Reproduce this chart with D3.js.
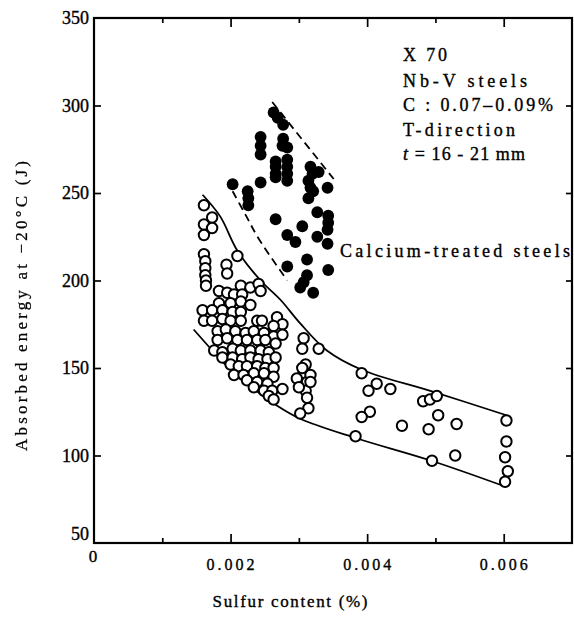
<!DOCTYPE html>
<html><head><meta charset="utf-8">
<script src="https://cdn.jsdelivr.net/npm/d3@7"></script>
<style>
html,body{margin:0;padding:0;background:#fff;}
svg{display:block;font-family:"Liberation Serif","Times New Roman",serif;}
svg text{stroke:#000;stroke-width:0.35px;fill:#000;}
svg text.ytitle{stroke:#000;stroke-width:0.25px;}
</style>
</head><body>
<svg id="chart" width="574" height="620"></svg>
<script>
// ---------- data (sulfur %, absorbed energy J) ----------
const openSteels = [
 [0.00161,243],[0.00173,236],[0.00161,232],[0.00173,230],[0.00161,226],
 [0.00161,215],[0.00163,211],[0.00163,207],[0.00163,203],[0.00164,200],[0.00164,197],
 [0.00194,209],[0.00195,204],[0.00210,214],
 [0.00183,194],[0.00195,193],[0.00215,197],[0.00229,196],[0.00241,198],[0.00244,194],
 [0.00205,192],[0.00217,192],
 [0.00183,187],[0.00200,187],[0.00215,188],[0.00229,186],
 [0.00159,183],[0.00173,183],[0.00188,183],[0.00203,182],[0.00215,182],
 [0.00161,177],[0.00173,177],[0.00188,178],[0.00200,177],[0.00215,177],[0.00239,177],[0.00246,177],
 [0.00268,179],[0.00276,175],[0.00263,174],
 [0.00181,171],[0.00193,172],[0.00207,171],[0.00222,170],[0.00234,171],[0.00249,170],[0.00263,168],
 [0.00181,166],[0.00195,167],[0.00210,166],[0.00224,166],[0.00239,166],[0.00251,166],[0.00266,164],
 [0.00307,167],[0.00305,161],
 [0.00176,160],[0.00188,159],[0.00203,161],[0.00215,160],[0.00229,160],[0.00244,160],[0.00256,159],
 [0.00188,156],[0.00203,156],[0.00217,155],[0.00229,156],[0.00241,155],[0.00254,155],[0.00266,156],
 [0.00200,152],[0.00212,151],[0.00224,151],[0.00239,151],[0.00251,150],[0.00263,150],
 [0.00205,146],[0.00219,146],[0.00234,147],[0.00249,147],[0.00263,145],
 [0.00310,152],[0.00307,147],[0.00312,142],[0.00310,137],[0.00312,133],
 [0.00224,143],[0.00239,142],[0.00254,141],[0.00234,139],[0.00249,137],[0.00261,137],[0.00276,138],
 [0.00256,134],[0.00263,132],
 [0.00297,144],[0.00300,139],
 [0.00276,169],[0.00329,161],[0.00305,150],[0.00317,146],[0.00317,142],[0.00314,127],[0.00302,124],
 [0.00392,147],[0.00414,141],[0.00402,137],[0.00434,138],[0.00404,125],[0.00392,122],[0.00383,111],
 [0.00451,117],[0.00490,115],[0.00482,131],[0.00492,132],[0.00502,134],[0.00504,123],[0.00531,118],
 [0.00495,97],[0.00529,100],
 [0.00604,120],[0.00604,108],[0.00602,99],[0.00606,91],[0.00602,85]
];
const calciumSteels = [
 [0.00263,296],[0.00269,293],[0.00277,289],[0.00244,282],[0.00244,277],[0.00244,272],
 [0.00277,281],[0.00276,277],[0.00283,276],
 [0.00266,268],[0.00266,265],[0.00266,261],[0.00266,259],
 [0.00283,269],[0.00283,265],[0.00283,261],[0.00283,257],
 [0.00244,256],[0.00203,255],[0.00225,251],[0.00226,247],[0.00226,243],
 [0.00317,265],[0.00320,261],[0.00314,257],[0.00317,253],[0.00321,251],[0.00342,253],[0.00329,262],[0.00314,247],
 [0.00266,235],[0.00305,231],[0.00283,226],[0.00295,222],
 [0.00327,239],[0.00343,237],[0.00343,233],[0.00342,229],[0.00327,225],[0.00342,221],
 [0.00312,212],[0.00283,208],[0.00343,206],[0.00312,203],[0.00307,199],[0.00302,196],[0.00321,193]
];
const upperBand = [[0.00159,249],[0.00185,236.5],[0.00210,217],[0.00244,200],[0.00273,189],[0.00302,175.5],[0.00341,160],[0.00392,149],[0.00496,136.5],[0.00604,123]];
const lowerBand = [[0.00146,172],[0.00171,161],[0.00200,149],[0.00229,139.5],[0.00266,129],[0.00302,121],[0.00383,110],[0.00494,97],[0.00604,82]];
const caUpperLine = [[0.00261,302],[0.00351,258]];
const caLowerLine = [[0.00203,251],[0.00222,237.5],[0.00241,224],[0.00283,200]];

const yTickValues = [50,100,150,200,250,300,350];
const xMajorTicks = [0.002,0.004,0.006];
const xMinorTicks = [0.001,0.003,0.005];
const xTickLabels = ["0.002","0.004","0.006"];
const noteLines = ["X 70","Nb-V  steels","C : 0.07\u20130.09%","T-direction","t = 16 - 21 mm"];

// ---------- layout ----------
const W=574,H=620;
const M={l:94,r:2,t:18,b:77};
const x=d3.scaleLinear().domain([0,0.007]).range([M.l,W-M.r]);
const y=d3.scaleLinear().domain([50,350]).range([H-M.b,M.t]);
const svg=d3.select('#chart');

// grayscale filter (avoids coloured fringes on rotated text)
svg.append('defs').append('filter').attr('id','gray')
  .append('feColorMatrix').attr('type','saturate').attr('values',0);

// axes (ticks pointing inward)
function styleAxis(g){g.select('.domain').remove();g.selectAll('line').attr('stroke','#000').attr('stroke-width',1.7);}
const allX=[...xMinorTicks,...xMajorTicks].sort();
const bAx=svg.append('g').attr('transform',`translate(0,${y(50)})`)
  .call(d3.axisBottom(x).tickValues(allX).tickSize(-9).tickFormat(''));
bAx.selectAll('.tick line').attr('y2',d=>xMinorTicks.includes(d)?-5:-9);
styleAxis(bAx);
const tAx=svg.append('g').attr('transform',`translate(0,${y(350)})`)
  .call(d3.axisTop(x).tickValues(allX).tickSize(-9).tickFormat(''));
tAx.selectAll('.tick line').attr('y2',d=>xMinorTicks.includes(d)?5:9);
styleAxis(tAx);
const inner=yTickValues.filter(v=>v>50&&v<350);
const lAx=svg.append('g').attr('transform',`translate(${x(0)},0)`)
  .call(d3.axisLeft(y).tickValues(inner).tickSize(-7).tickFormat(''));
styleAxis(lAx);
const rAx=svg.append('g').attr('transform',`translate(${x(0.007)},0)`)
  .call(d3.axisRight(y).tickValues(inner).tickSize(-6).tickFormat(''));
styleAxis(rAx);

// frame
svg.append('rect').attr('x',x(0)).attr('y',y(350))
  .attr('width',x(0.007)-x(0)).attr('height',y(50)-y(350))
  .attr('fill','none').attr('stroke','#000').attr('stroke-width',2.2);

// tick labels
svg.append('g').selectAll('text').data(yTickValues).join('text')
  .attr('x',x(0)-5).attr('y',d=>y(d)+(d===50?-3:6))
  .attr('text-anchor','end').attr('font-size',18).text(d=>d);
svg.append('text').attr('x',x(0)-1).attr('y',y(50)+19).attr('text-anchor','middle').attr('font-size',17).text('0');
svg.append('g').selectAll('text').data(xMajorTicks).join('text')
  .attr('x',d=>x(d)).attr('y',y(50)+27).attr('text-anchor','middle')
  .attr('font-size',16).attr('textLength',48).attr('lengthAdjust','spacing')
  .text((d,i)=>xTickLabels[i]);

// axis titles
svg.append('text').attr('x',290).attr('y',607).attr('text-anchor','middle')
  .attr('font-size',17).attr('textLength',155).attr('lengthAdjust','spacing')
  .text('Sulfur content (%)');
svg.append('g').attr('filter','url(#gray)').append('text').attr('class','ytitle')
  .attr('transform','translate(27,306) rotate(-90)')
  .attr('text-anchor','middle').attr('font-size',17)
  .attr('textLength',290).attr('lengthAdjust','spacing')
  .text('Absorbed energy at  \u221220\u00b0C (J)');

// curves
const line=d3.line().x(d=>x(d[0])).y(d=>y(d[1])).curve(d3.curveCatmullRom.alpha(0.5));
svg.append('path').datum(upperBand).attr('d',line).attr('fill','none').attr('stroke','#000').attr('stroke-width',1.8);
svg.append('path').datum(lowerBand).attr('d',line).attr('fill','none').attr('stroke','#000').attr('stroke-width',1.8);
svg.append('path').datum(caUpperLine).attr('d',line).attr('fill','none').attr('stroke','#000').attr('stroke-width',1.8).attr('stroke-dasharray','8,5');
svg.append('path').datum(caLowerLine).attr('d',line).attr('fill','none').attr('stroke','#000').attr('stroke-width',1.8).attr('stroke-dasharray','8,5');

// points
svg.append('g').selectAll('circle').data(openSteels).join('circle')
  .attr('cx',d=>x(d[0])).attr('cy',d=>y(d[1])).attr('r',5.2)
  .attr('fill','#fff').attr('stroke','#000').attr('stroke-width',2);
svg.append('g').selectAll('circle').data(calciumSteels).join('circle')
  .attr('cx',d=>x(d[0])).attr('cy',d=>y(d[1])).attr('r',5.9).attr('fill','#000');

// annotations
const noteY=[61,87,111,136,160], noteLen=[44,124,150,112,122];
const notes=svg.append('g').attr('font-size',18);
noteLines.forEach((t,i)=>{
  const tx=notes.append('text').attr('x',403).attr('y',noteY[i])
    .attr('textLength',noteLen[i]).attr('lengthAdjust','spacing');
  if(i===4){tx.append('tspan').attr('font-style','italic').text('t');tx.append('tspan').text(t.slice(1));}
  else tx.text(t);
});
svg.append('text').attr('x',340).attr('y',257).attr('font-size',18)
  .attr('textLength',230).attr('lengthAdjust','spacing').text('Calcium-treated steels');
</script>
</body></html>
